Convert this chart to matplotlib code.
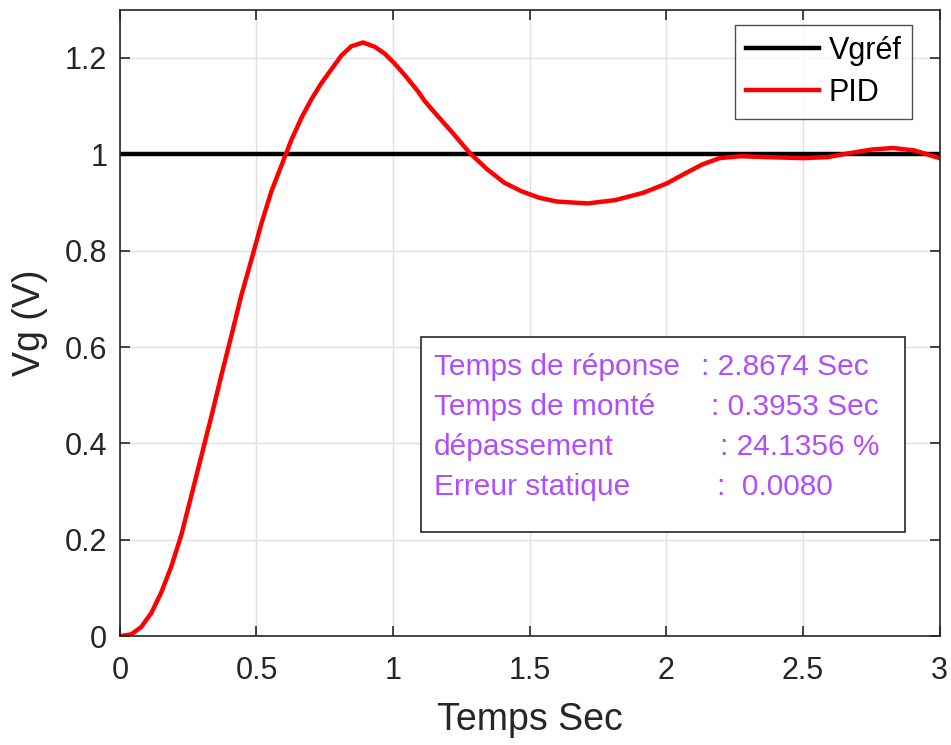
import matplotlib

matplotlib.use("Agg")
import matplotlib.pyplot as plt

plt.rcParams["font.family"] = ["Liberation Sans", "DejaVu Sans"]

# PID step response
t = [0.0, 0.042, 0.078, 0.115, 0.151, 0.188, 0.225, 0.261, 0.298, 0.335,
     0.371, 0.408, 0.444, 0.481, 0.518, 0.554, 0.591, 0.628, 0.665, 0.701,
     0.737, 0.774, 0.811, 0.847, 0.89, 0.933, 0.969, 1.006, 1.043, 1.092,
     1.115, 1.153, 1.217, 1.28, 1.344, 1.407, 1.471, 1.534, 1.598, 1.712,
     1.814, 1.915, 2.0, 2.068, 2.132, 2.195, 2.271, 2.373, 2.5, 2.589,
     2.678, 2.754, 2.83, 2.907, 3.0]
vg = [0.0, 0.004, 0.019, 0.048, 0.09, 0.144, 0.21, 0.29, 0.373, 0.456,
      0.54, 0.623, 0.706, 0.78, 0.856, 0.922, 0.976, 1.03, 1.076, 1.114,
      1.147, 1.176, 1.205, 1.224, 1.232, 1.223, 1.209, 1.188, 1.164, 1.13,
      1.111, 1.086, 1.045, 1.003, 0.969, 0.941, 0.923, 0.910, 0.902, 0.898,
      0.905, 0.920, 0.939, 0.96, 0.979, 0.992, 0.996, 0.994, 0.992, 0.994,
      1.003, 1.010, 1.013, 1.008, 0.992]
t_ref = [0.0, 3.0]
vg_ref = [1.0, 1.0]

labels = ["Temps de réponse", "Temps de monté", "dépassement", "Erreur statique"]
values = [": 2.8674 Sec", ": 0.3953 Sec", ": 24.1356 %", ":  0.0080"]
value_x = [0.7085, 0.7207, 0.7317, 0.729]

purple = "#B24CFF"
dark = "#262626"

fig = plt.figure(figsize=(9.51, 7.45), dpi=100)
ax = fig.add_axes([0.126, 0.146, 0.862, 0.841])

ax.plot(t_ref, vg_ref, color="black", lw=3.2, label="Vgréf")
ax.plot(t, vg, color="red", lw=3.2, label="PID", solid_joinstyle="round")

ax.set_xlim(0, 3)
ax.set_ylim(0, 1.3)
ax.set_xticks([0, 0.5, 1, 1.5, 2, 2.5, 3])
ax.set_xticklabels(["0", "0.5", "1", "1.5", "2", "2.5", "3"])
ax.set_yticks([0, 0.2, 0.4, 0.6, 0.8, 1.0, 1.2])
ax.set_yticklabels(["0", "0.2", "0.4", "0.6", "0.8", "1", "1.2"])
ax.tick_params(direction="in", length=7, width=1.2, labelsize=22, colors=dark,
               top=True, right=True)
ax.tick_params(axis="x", pad=14)
ax.tick_params(axis="y", pad=9)
for s in ax.spines.values():
    s.set_color(dark)
    s.set_linewidth(1.2)
ax.grid(True, color="#e0e0e0", lw=1)
ax.set_axisbelow(True)

ax.set_xlabel("Temps Sec", fontsize=27, color=dark, labelpad=12)
ax.set_ylabel("Vg (V)", fontsize=27, color=dark, labelpad=12)

leg = ax.legend(loc="upper right", bbox_to_anchor=(912 / 951, 1 - 25 / 745),
                bbox_transform=fig.transFigure, fontsize=22, frameon=True,
                fancybox=False, edgecolor=dark, handlelength=2.4, borderaxespad=0,
                handletextpad=0.3, labelspacing=0.4, borderpad=0.35)
leg.get_frame().set_linewidth(1.0)

# info box
box = plt.Rectangle((0.368, 0.166), 0.590, 0.311, transform=ax.transAxes,
                    fill=True, facecolor="white", edgecolor=dark, lw=1.2, zorder=3)
ax.add_patch(box)
for i, (lab, val, vx) in enumerate(zip(labels, values, value_x)):
    y = 0.4165 - i * 0.0638
    ax.text(0.383, y, lab, transform=ax.transAxes, color=purple, fontsize=21.5,
            va="baseline", zorder=4)
    ax.text(vx, y, val, transform=ax.transAxes, color=purple, fontsize=21.5,
            va="baseline", zorder=4)

fig.savefig("out.png", dpi=100)
